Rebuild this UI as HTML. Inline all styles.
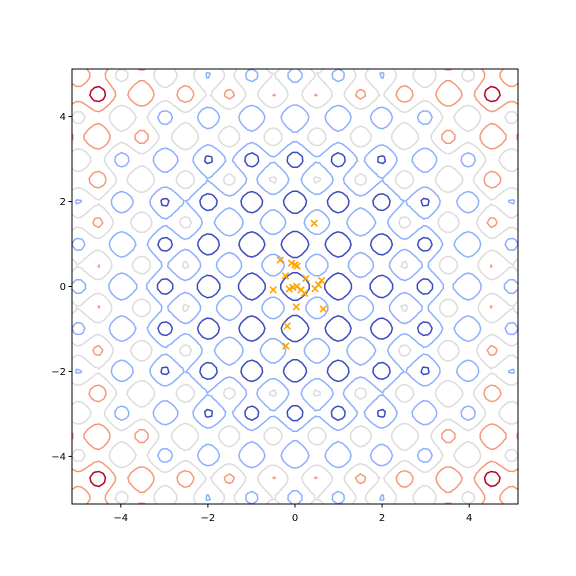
<!DOCTYPE html>
<html><head><meta charset="utf-8"><style>
body{margin:0;background:#fff}
svg{display:block;font-family:"DejaVu Sans","Liberation Sans",sans-serif}
</style></head><body>
<svg id="chart" width="576" height="576" viewBox="0 0 576 576">
<g id="contours"></g>
<g id="points"></g>
<rect x="72" y="69" width="446" height="435" fill="none" stroke="#000" stroke-width="1"/>
<g id="axes" font-size="10" fill="#000"></g>
</svg>
<script>
const levels = [15, 30, 45, 60, 75];
const levelColors = ["#3b4cc0", "#8db0fe", "#dddcdc", "#f49a7b", "#b40426"];
const xTicks = [-4, -2, 0, 2, 4];
const yTicks = [-4, -2, 0, 2, 4];
const pointsX = [0.44,-0.34,-0.08,0.0,0.05,-0.22,0.25,0.61,0.54,-0.50,-0.13,-0.05,0.04,0.14,0.22,0.46,0.65,0.03,-0.18,-0.21];
const pointsY = [1.49,0.62,0.55,0.51,0.48,0.25,0.19,0.14,0.04,-0.08,-0.06,-0.02,0.00,-0.08,-0.16,-0.05,-0.53,-0.48,-0.93,-1.40];
const xMin=-5.12,xMax=5.12,yMin=-5.12,yMax=5.12;
const L=72,R=518,T=69,B=504;
const sx=v=>L+(v-xMin)/(xMax-xMin)*(R-L);
const sy=v=>B-(v-yMin)/(yMax-yMin)*(B-T);
const NS="http://www.w3.org/2000/svg";
function f(x,y){return 20+x*x-10*Math.cos(2*Math.PI*x)+y*y-10*Math.cos(2*Math.PI*y);}
const N=99;
const xs=[],ys=[],Z=[];
for(let i=0;i<=N;i++){xs.push(xMin+(xMax-xMin)*i/N);ys.push(yMin+(yMax-yMin)*i/N);}
for(let j=0;j<=N;j++){const row=[];for(let i=0;i<=N;i++)row.push(f(xs[i],ys[j]));Z.push(row);}
const cg=document.getElementById('contours');
levels.forEach((lv,k)=>{
  let d="";
  for(let j=0;j<N;j++)for(let i=0;i<N;i++){
    const a=Z[j][i],b=Z[j][i+1],c=Z[j+1][i+1],e=Z[j+1][i];
    const pts=[];
    const edge=(v1,v2,x1,y1,x2,y2)=>{ if((v1<lv)!==(v2<lv)){const t=(lv-v1)/(v2-v1);pts.push([sx(x1+(x2-x1)*t),sy(y1+(y2-y1)*t)]);} };
    edge(a,b,xs[i],ys[j],xs[i+1],ys[j]);
    edge(b,c,xs[i+1],ys[j],xs[i+1],ys[j+1]);
    edge(c,e,xs[i+1],ys[j+1],xs[i],ys[j+1]);
    edge(e,a,xs[i],ys[j+1],xs[i],ys[j]);
    for(let p=0;p+1<pts.length;p+=2)d+="M"+pts[p][0].toFixed(1)+" "+pts[p][1].toFixed(1)+"L"+pts[p+1][0].toFixed(1)+" "+pts[p+1][1].toFixed(1);
  }
  const path=document.createElementNS(NS,'path');
  path.setAttribute('d',d);path.setAttribute('fill','none');
  path.setAttribute('stroke',levelColors[k]);path.setAttribute('stroke-width','1.5');
  path.setAttribute('stroke-linecap','round');
  
  
  cg.appendChild(path);
});
const pg=document.getElementById('points');
pointsX.forEach((px,i)=>{
  const cx=sx(px),cy=sy(pointsY[i]),s=3.2;
  const p=document.createElementNS(NS,'path');
  p.setAttribute('d',`M${cx-s} ${cy-s}L${cx+s} ${cy+s}M${cx-s} ${cy+s}L${cx+s} ${cy-s}`);
  p.setAttribute('stroke','#ffa500');p.setAttribute('stroke-width','1.6');
  
  
  pg.appendChild(p);
});
const ag=document.getElementById('axes');
xTicks.forEach(v=>{
  const x=sx(v);
  const l=document.createElementNS(NS,'line');
  l.setAttribute('x1',x);l.setAttribute('x2',x);l.setAttribute('y1',B);l.setAttribute('y2',B+3.5);l.setAttribute('stroke','#000');
  
  
  ag.appendChild(l);
  const t=document.createElementNS(NS,'text');
  t.setAttribute('x',x);t.setAttribute('y',B+17);t.setAttribute('text-anchor','middle');
  t.textContent=(v<0?'\u2212':'')+Math.abs(v);
  
  
  ag.appendChild(t);
});
yTicks.forEach(v=>{
  const y=sy(v);
  const l=document.createElementNS(NS,'line');
  l.setAttribute('x1',L-3.5);l.setAttribute('x2',L);l.setAttribute('y1',y);l.setAttribute('y2',y);l.setAttribute('stroke','#000');
  
  
  ag.appendChild(l);
  const t=document.createElementNS(NS,'text');
  t.setAttribute('x',L-6);t.setAttribute('y',y+3.5);t.setAttribute('text-anchor','end');
  t.textContent=(v<0?'\u2212':'')+Math.abs(v);
  
  
  ag.appendChild(t);
});
</script>
</body></html>
